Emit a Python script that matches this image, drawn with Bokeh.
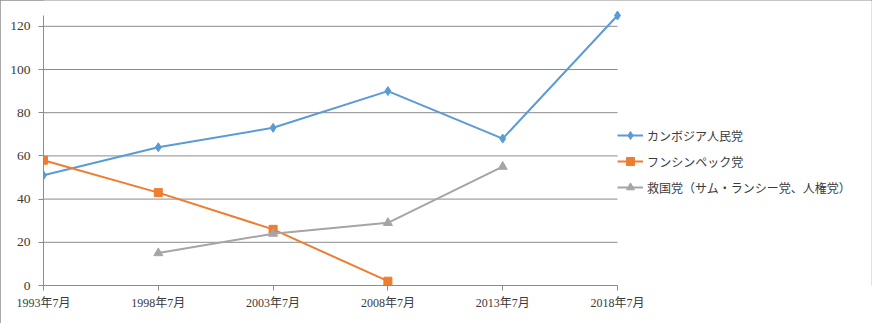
from bokeh.plotting import figure
from bokeh.models import Range1d, FixedTicker, Legend, LegendItem, ColumnDataSource
from bokeh.embed import file_html
from bokeh.resources import INLINE

nan = float("nan")

periods = ["1993年7月", "1998年7月", "2003年7月", "2008年7月", "2013年7月", "2018年7月"]
series_names = ["カンボジア人民党", "フンシンペック党", "救国党（サム・ランシー党、人権党）"]
cpp = [51, 64, 73, 90, 68, 125]
funcinpec = [58, 43, 26, 2, nan, nan]
cnrp = [nan, 15, 24, 29, 55, nan]
y_ticks = [0, 20, 40, 60, 80, 100, 120]
y_max = 125

colors = ["#5B9BD5", "#ED7D31", "#A5A5A5"]
grid_c = "#8C8C8C"
text_c = "#3A3A3A"
lat_font = "'Liberation Serif', 'Noto Sans CJK JP'"
jp_font = "'Noto Sans CJK JP'"

xs = list(range(len(periods)))
x_last = len(periods) - 1

# layout (pixels): plot area 43..617 horizontally, 15..285 vertically
W, H = 872, 323
left, area_w = 43, 574
top_pad, area_h, bottom = 15, 270, 38
frame_w = W - left - 1
frame_h = H - bottom
px_x = area_w / x_last
px_y = area_h / y_max

p = figure(width=W, height=H, output_backend="svg", toolbar_location=None,
           x_range=Range1d(0, frame_w / px_x), y_range=Range1d(0, frame_h / px_y),
           min_border_left=left, min_border_right=1, min_border_top=0, min_border_bottom=bottom)
p.outline_line_color = None
p.background_fill_color = "white"
p.border_fill_color = "white"
p.styles = {"outline": "1px solid #8C8C8C", "outline-offset": "-1px"}

# axes
p.xaxis.ticker = FixedTicker(ticks=xs)
p.xaxis.major_label_overrides = {i: lab for i, lab in enumerate(periods)}
p.xaxis.bounds = (0, x_last)
p.yaxis.ticker = FixedTicker(ticks=y_ticks)
p.yaxis.bounds = (0, y_max)
for ax in (p.xaxis, p.yaxis):
    ax.axis_line_color = grid_c
    ax.major_tick_line_color = grid_c
    ax.major_tick_out = 5
    ax.major_tick_in = 0
    ax.minor_tick_line_color = None
    ax.major_label_text_color = text_c
    ax.major_label_text_font = lat_font
p.xaxis.major_label_text_font_size = "12px"
p.yaxis.major_label_text_font_size = "13.5px"
p.yaxis.major_label_standoff = 8
p.xaxis.major_label_standoff = 5

p.xgrid.grid_line_color = None
p.ygrid.grid_line_color = None
gl = [t for t in y_ticks if t > 0]
p.segment(x0=[0] * len(gl), x1=[x_last] * len(gl), y0=gl, y1=gl, line_color=grid_c, line_width=1)

data = [cpp, funcinpec, cnrp]
markers = ["diamond", "square", "triangle"]
sizes = [9, 8, 9]
items = []
for name, vals, col, mk, sz in zip(series_names, data, colors, markers, sizes):
    src = ColumnDataSource(dict(x=xs, y=vals))
    r1 = p.line("x", "y", source=src, line_color=col, line_width=2)
    r2 = p.scatter("x", "y", source=src, marker=mk, size=sz, fill_color=col, line_color=col)
    items.append(LegendItem(label=name, renderers=[r1, r2]))

legend = Legend(items=items, location=(area_w, 88), orientation="vertical",
                background_fill_alpha=0, border_line_color=None,
                padding=0, margin=0, spacing=6, glyph_width=26, glyph_height=20,
                label_height=20, label_standoff=4,
                label_text_font=jp_font, label_text_font_size="12px", label_text_color=text_c)
p.add_layout(legend, "center")

open("out.html", "w").write(file_html(p, INLINE))
